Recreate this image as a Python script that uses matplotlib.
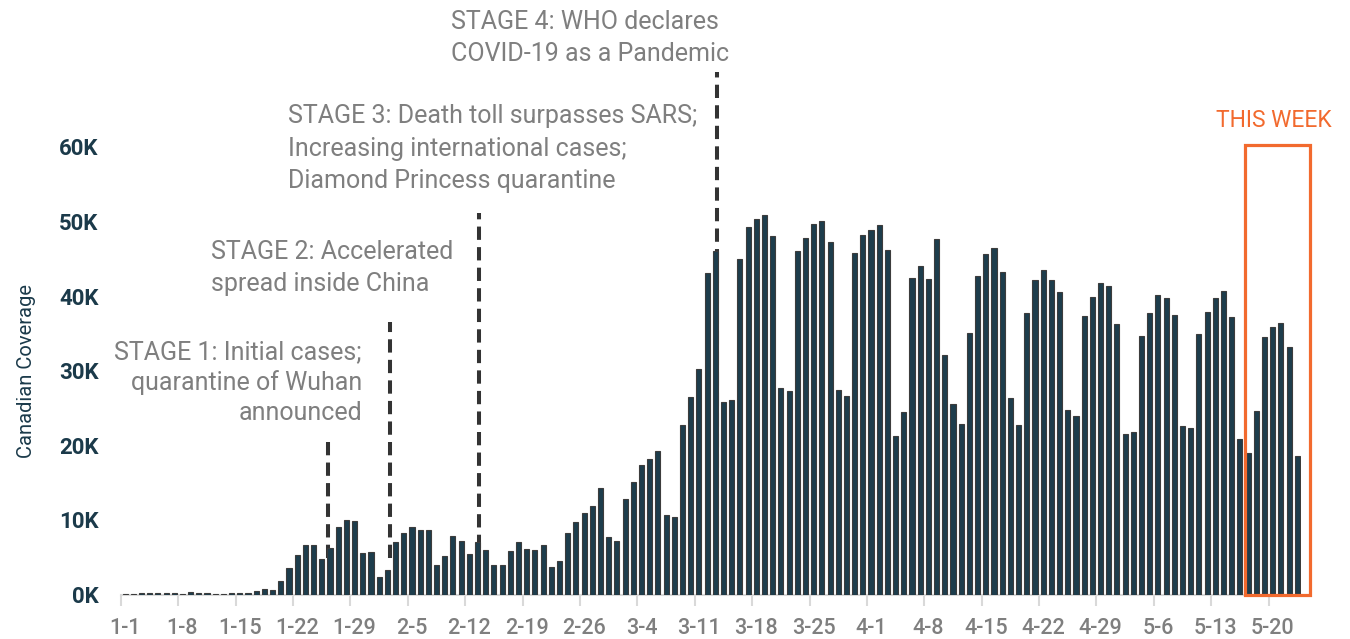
import numpy as np
import matplotlib
matplotlib.use('Agg')
import matplotlib.pyplot as plt
from matplotlib.patches import Rectangle

# Daily Canadian coverage (thousands), 1-1 through 5-23
coverage = [
    0.05, 0.1, 0.15, 0.25, 0.2, 0.2, 0.15, 0.1, 0.3, 0.2, 0.15, 0.1, 0.1, 0.15, 0.2, 0.25,
    0.5, 0.7, 0.6,
    1.8, 3.5, 5.3, 6.7, 6.7, 4.8, 6.3, 9.1, 10.0, 9.8, 5.5, 5.7, 2.4, 3.3, 7.1,
    8.2, 9.1, 8.7, 8.7, 4.0, 5.1, 7.8, 7.2, 5.4, 7.1, 6.0, 3.9, 3.9, 5.8, 7.0, 6.1, 6.0, 6.7,
    3.75, 4.5, 8.3, 9.7, 10.9, 11.9, 14.3, 7.7, 7.2, 12.8, 15.1, 17.3, 18.2, 19.2, 10.6, 10.4,
    22.7, 26.5, 30.2, 43.1, 46.1, 25.8, 26.1, 45.0, 49.3, 50.3, 50.9, 48.0, 27.7, 27.3, 46.0, 47.8,
    49.7, 50.1, 47.2, 27.4, 26.6, 45.8, 48.2, 48.9, 49.6, 46.2, 21.3, 24.5, 42.4, 44.1, 42.3, 47.7,
    32.1, 25.6,
    22.8, 35.1, 42.7, 45.6, 46.4, 43.2, 26.3, 22.7, 37.8, 42.2, 43.5, 42.2, 40.5, 24.8, 23.9, 37.4,
    39.9, 41.7, 41.4, 36.3, 21.5, 21.8, 34.7, 37.7, 40.2, 39.8, 37.5, 22.6, 22.3, 34.9, 37.9, 39.8,
    40.7, 37.2, 20.9,
    19.0, 24.6, 34.5, 35.8, 36.4, 33.2, 18.6,
]

week_labels = ['1-1', '1-8', '1-15', '1-22', '1-29', '2-5', '2-12', '2-19', '2-26', '3-4',
               '3-11', '3-18', '3-25', '4-1', '4-8', '4-15', '4-22', '4-29', '5-6', '5-13', '5-20']
y_labels = ['0K', '10K', '20K', '30K', '40K', '50K', '60K']

# stage annotations: (day position, line bottom, line top)
stage_lines = [(24.75, 4.9, 21.1), (32.3, 4.9, 36.5), (43.2, 6.2, 51.1), (72.2, 0.5, 70.0)]
stage_texts = [
    (28.9, [32.5, 28.4, 24.3], ['STAGE 1: Initial cases;', 'quarantine of Wuhan', 'announced'], 'right'),
    (10.5, [45.9, 41.6], ['STAGE 2: Accelerated', 'spread inside China'], 'left'),
    (19.9, [64.1, 59.7, 55.4], ['STAGE 3: Death toll surpasses SARS;', 'Increasing international cases;',
                                'Diamond Princess quarantine'], 'left'),
    (39.8, [76.7, 72.5], ['STAGE 4: WHO declares', 'COVID-19 as a Pandemic'], 'left'),
]

plt.rcParams['font.family'] = ['Roboto', 'DejaVu Sans']

navy = '#1b3a4a'
gray_text = '#7f7f7f'
orange = '#f26a2e'

fig = plt.figure(figsize=(13.5, 6.39), dpi=100)
ax = fig.add_axes([0.0896, 0.0696, 0.8744, 0.7004])

x = np.arange(len(coverage))
ax.bar(x, coverage, width=0.62, color='#1d3d4c', edgecolor='#3c3c3c', linewidth=0.8, zorder=3)

ax.set_xlim(-0.5, len(coverage) - 0.5)
ax.set_ylim(0, 60)

for s in ['top', 'right', 'left']:
    ax.spines[s].set_visible(False)
ax.spines['bottom'].set_color('#d9d9d9')
ax.spines['bottom'].set_linewidth(1.5)

# tick marks between categories, labels centred on the category
week_pos = np.arange(0, len(coverage), 7)
ax.set_xticks(week_pos - 0.5)
ax.set_xticklabels([])
ax.tick_params(axis='x', which='major', length=8, width=1.5, color='#d9d9d9')
ax.set_xticks(week_pos, minor=True)
ax.set_xticklabels(week_labels, minor=True, fontweight='medium')
ax.tick_params(axis='x', which='minor', length=0, pad=17, labelsize=15.5, labelcolor=gray_text)

ax.set_yticks(np.arange(0, 61, 10))
ax.set_yticklabels(y_labels, fontweight='bold')
ax.tick_params(axis='y', length=0, pad=16, labelsize=16, labelcolor=navy)
ax.set_ylabel('Canadian Coverage', fontsize=14.5, color=navy, labelpad=17)

for xp, y0, y1 in stage_lines:
    ax.plot([xp, xp], [y0, y1], color='#333333', lw=2.9, dashes=(3.3, 1.8),
            zorder=2, clip_on=False, solid_capstyle='butt', dash_capstyle='butt')

for xp, ys, lines, ha in stage_texts:
    for yp, line in zip(ys, lines):
        ax.text(xp, yp, line, ha=ha, va='center', fontsize=18, color=gray_text, clip_on=False)

# "this week" highlight
ax.add_patch(Rectangle((136.6, 0), 8.0, 60.3, fill=False, edgecolor=orange, lw=2.3,
                       clip_on=False, zorder=4))
ax.text(140.1, 63.6, 'THIS WEEK', ha='center', va='center', fontsize=16.5, color=orange, clip_on=False)

fig.savefig('out.png', dpi=100)
